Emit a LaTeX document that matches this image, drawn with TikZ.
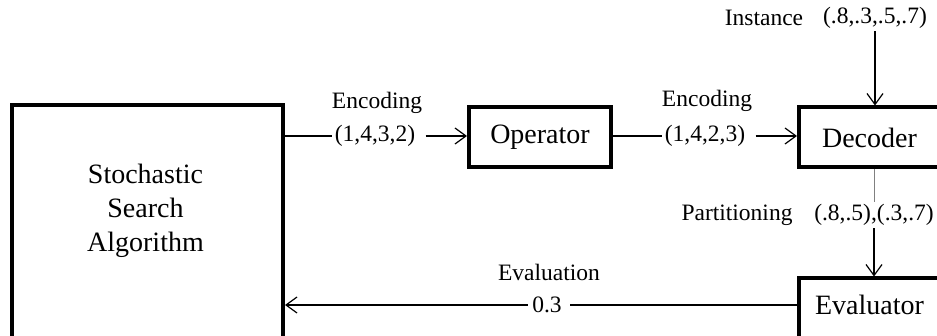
\documentclass[tikz,border=0pt]{standalone}
\usepackage{fontspec}
\setmainfont{Liberation Serif}
\usepackage{tikz}
\usetikzlibrary{arrows.meta,positioning}

\tikzset{
	mainbox/.style={draw, line width=2pt, inner sep=0pt, font=\fontsize{14}{17}\selectfont},
	lbl/.style={inner sep=1pt, font=\fontsize{11.75}{14}\selectfont},
	link/.style={line width=0.6pt},
	arr/.style={link, -{Straight Barb[length=5.5pt,width=8pt]}}
}

\begin{document}
\begin{tikzpicture}[x=0.5pt,y=-0.5pt]
		\useasboundingbox (0,0) rectangle (937,336);
		\clip (0,0) rectangle (937,336);
		
		\node[mainbox, anchor=north west, minimum width=135.5pt, minimum height=160pt] (ssa) at (10,103) {};
		\node[align=center, font=\fontsize{14}{17}\selectfont] (ssatext) at (145.5,211) {Stochastic\\Search\\Algorithm};
		\node[mainbox, minimum width=71pt, minimum height=30pt] (op) at (540,137.5) {Operator};
		\node[mainbox, minimum width=70.5pt, minimum height=30pt] (dec) at (869.5,137.5) {Decoder};
		\node[mainbox, anchor=north, minimum width=70.5pt, minimum height=40pt] (eval) at (869.5,276.5) {};
		\node[font=\fontsize{14}{17}\selectfont] (evaltext) at (869.5,305) {Evaluator};
		
		\node[lbl] (enc1) at (377,103) {Encoding};
		\node[lbl] (code1) at (375,136) {(1,4,3,2)};
		\node[lbl] (enc2) at (707,101) {Encoding};
		\node[lbl] (code2) at (705,136) {(1,4,2,3)};
		\node[lbl] (inst) at (764,18) {Instance};
		\node[lbl] (instval) at (875,18) {(.8,.3,.5,.7)};
		\node[lbl] (part) at (737,215) {Partitioning};
		\node[lbl] (partval) at (874,215) {(.8,.5),(.3,.7)};
		\node[lbl] (evalab) at (549,272) {Evaluation};
		\node[lbl] (val) at (547,305) {0.3};
		
		\draw[link] (ssa.east |- code1) -- (code1.west);
		\draw[arr] ([xshift=4pt]code1.east) -- (code1.east -| op.west);
		\draw[link] (op.east |- code2) -- (code2.west);
		\draw[arr] ([xshift=4pt]code2.east) -- (code2.east -| dec.west);
		\draw[arr] (instval.south) -- (instval.south |- dec.north);
		\draw[gray, line width=0.4pt] (dec.south -| partval) -- (partval.north);
		\draw[arr] (partval.south) -- (partval.south |- eval.north);
		\draw[link] (eval.west |- val) -- ([xshift=3pt]val.east);
		\draw[arr] ([xshift=-1pt]val.west) -- (val.west -| ssa.east);
\end{tikzpicture}
\end{document}
